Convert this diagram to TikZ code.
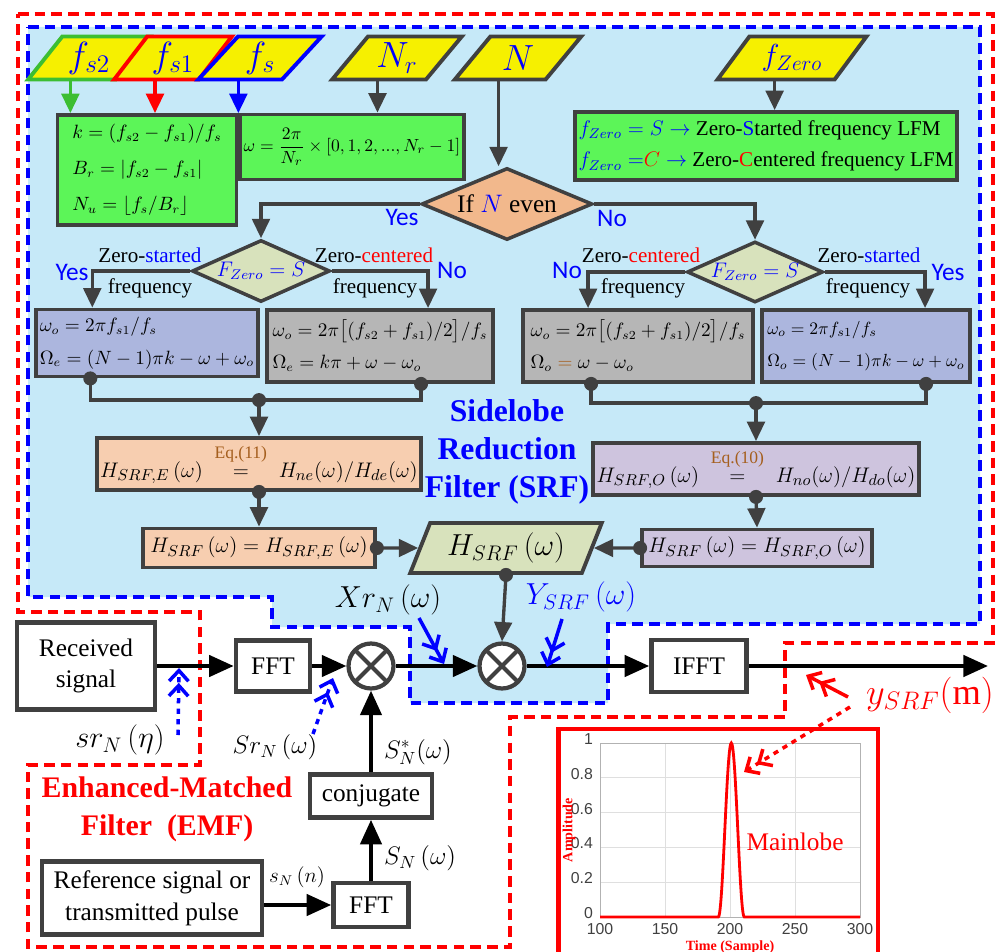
\documentclass[tikz,border=0pt]{standalone}
\usepackage{amsmath}
\usepackage{fontspec}
\setmainfont{Liberation Serif}
\newfontfamily\labelfont{Carlito}
\newfontfamily\axisfont{Liberation Sans}
\usetikzlibrary{shapes.geometric,arrows.meta,calc,positioning}

\definecolor{dgray}{RGB}{64,64,64}
\definecolor{srfblue}{RGB}{198,233,248}
\definecolor{inyellow}{RGB}{246,240,0}
\definecolor{boxgreen}{RGB}{92,245,88}
\definecolor{peach}{RGB}{242,184,140}
\definecolor{lightpeach}{RGB}{247,206,176}
\definecolor{boxgray}{RGB}{182,182,182}
\definecolor{boxblue}{RGB}{172,182,222}
\definecolor{lavender}{RGB}{206,196,222}
\definecolor{olive}{RGB}{216,226,188}
\definecolor{ingreen}{RGB}{60,190,50}
\definecolor{eqbrown}{RGB}{165,95,30}

\begin{document}
\begin{tikzpicture}[
x=0.02cm, y=-0.02cm,
box/.style={draw=dgray, line width=2.2pt, align=left, inner sep=2pt, font=\fontsize{10.5}{12.5}\selectfont},
sigbox/.style={draw=dgray, line width=2.6pt, fill=white, align=center, font=\Large},
param/.style={trapezium, trapezium left angle=50, trapezium right angle=130, trapezium stretches=true, draw=dgray, line width=2.2pt, fill=inyellow, minimum height=0.86cm, inner sep=0pt, font=\huge, text=blue},
decision/.style={diamond, draw=dgray, line width=2pt, inner sep=0pt},
mult/.style={circle, draw=dgray, line width=2.4pt, fill=white, minimum size=0.9cm, path picture={\draw[dgray, line width=2.4pt] (path picture bounding box.north west) -- (path picture bounding box.south east) (path picture bounding box.north east) -- (path picture bounding box.south west);}},
dot/.style={circle, fill=dgray, inner sep=0pt, minimum size=8pt},
link/.style={draw=dgray, line width=1.9pt},
flow/.style={link, -{Triangle[length=11pt,width=10pt]}},
sig/.style={line width=2.4pt, -{Triangle[length=14pt,width=12pt]}},
pointer/.style={blue, line width=2pt, -{Straight Barb[length=6pt,width=11pt]Straight Barb[length=6pt,width=11pt]}},
note/.style={font=\large},
yn/.style={font=\labelfont\Large, text=blue},
tick/.style={font=\axisfont\small, text=black!75, inner sep=1pt}
]
\useasboundingbox (0,0) rectangle (1000,952);

\draw[blue, fill=srfblue, line width=2pt, dash pattern=on 6pt off 3.5pt] (28,27) -- (980,27) -- (980,624) -- (608,624) -- (608,703) -- (410,703) -- (410,627) -- (272,627) -- (272,597) -- (28,597) -- cycle;

\draw[red, line width=2pt, dash pattern=on 6pt off 3.5pt] (18,14) -- (993,14) -- (993,643) -- (785,643) -- (785,717) -- (510,717) -- (510,947) -- (28,947) -- (28,765) -- (200,765) -- (200,612) -- (18,612) -- cycle;

\node[param, draw=ingreen, minimum width=2.44cm] (fs2) at (89,58) {$f_{s2}$};

\node[param, draw=red, minimum width=2.36cm] (fs1) at (173,58) {$f_{s1}$};

\node[param, draw=blue, minimum width=2.48cm] (fs) at (260,58) {$f_s$};

\node[param, minimum width=2.6cm] (Nr) at (397,58) {$N_r$};

\node[param, minimum width=2.54cm] (N) at (518,58) {$N$};

\node[param, minimum width=2.98cm, font=\LARGE] (fZero) at (792,58) {$f_{Zero}$};

\node[box, fill=boxgreen, minimum width=3.58cm, minimum height=2.2cm] (kbox) at (147,170) {$k=(f_{s2}-f_{s1})/f_s$\\[8pt] $B_r=|f_{s2}-f_{s1}|$\\[8pt] $N_u=\lfloor f_s/B_r\rfloor$};

\node[box, fill=boxgreen, minimum width=4.3cm, minimum height=1.3cm, font=\fontsize{10}{12}\selectfont] (wbox) at (352,147) {$\omega=\dfrac{2\pi}{N_r}\times[0,1,2,...,N_r-1]$};

\node[box, fill=boxgreen, minimum width=7.26cm, minimum height=1.36cm, font=\large] (zbox) at (766,146) {${\color{blue}f_{Zero}=S\rightarrow}$ Zero-\textcolor{blue}{S}tarted frequency LFM\\[4pt] ${\color{blue}f_{Zero}=}{\color{red}C}\;{\color{blue}\rightarrow}$ Zero-\textcolor{red}{C}entered frequency LFM};

\node[decision, fill=peach, aspect=2.4, minimum width=3.42cm, minimum height=1.44cm, font=\Large] (ifN) at (507,204) {If \textcolor{blue}{$N$} even};

\node[decision, fill=olive, aspect=2.2, minimum width=2.76cm, minimum height=1.24cm, font=\large] (fzL) at (261,271) {\color{blue}$F_{Zero}=S$};

\node[decision, fill=olive, aspect=2.2, minimum width=2.72cm, minimum height=1.22cm, font=\large] (fzR) at (755,272) {\color{blue}$F_{Zero}=S$};

\node[box, fill=boxblue, minimum width=4.4cm, minimum height=1.34cm] (A) at (147,343) {$\omega_o=2\pi f_{s1}/f_s$\\[6pt] $\Omega_e=(N-1)\pi k-\omega+\omega_o$};

\node[box, fill=boxgray, minimum width=4.52cm, minimum height=1.44cm] (B) at (380,346) {$\omega_o=2\pi\big[(f_{s2}+f_{s1})/2\big]/f_s$\\[6pt] $\Omega_e=k\pi+\omega-\omega_o$};

\node[box, fill=boxgray, minimum width=4.6cm, minimum height=1.44cm] (C) at (638,346) {$\omega_o=2\pi\big[(f_{s2}+f_{s1})/2\big]/f_s$\\[6pt] $\Omega_o\mathrel{\color{eqbrown}=}\omega-\omega_o$};

\node[box, fill=boxblue, minimum width=4.16cm, minimum height=1.44cm, font=\fontsize{9.6}{11.5}\selectfont] (D) at (866,346) {$\omega_o=2\pi f_{s1}/f_s$\\[7pt] $\Omega_o=(N-1)\pi k-\omega+\omega_o$};

\node[box, fill=lightpeach, minimum width=6.3cm, minimum height=1.04cm, font=\fontsize{13}{15}\selectfont] (E) at (259,464) {$H_{SRF,E}\,(\omega)\;\overset{\raisebox{4pt}{\normalsize\color{eqbrown}Eq.(11)}}{=}\;H_{ne}(\omega)/H_{de}(\omega)$};

\node[box, fill=lavender, minimum width=6.34cm, minimum height=1.04cm, font=\fontsize{13}{15}\selectfont] (F) at (756,469) {$H_{SRF,O}\,(\omega)\;\overset{\raisebox{4pt}{\normalsize\color{eqbrown}Eq.(10)}}{=}\;H_{no}(\omega)/H_{do}(\omega)$};

\node[box, fill=lightpeach, minimum width=4.64cm, minimum height=0.78cm, font=\fontsize{13}{15}\selectfont] (G) at (259,548) {$H_{SRF}\,(\omega)=H_{SRF,E}\,(\omega)$};

\node[box, fill=lavender, minimum width=4.6cm, minimum height=0.74cm, font=\fontsize{13}{15}\selectfont] (H) at (757,548) {$H_{SRF}\,(\omega)=H_{SRF,O}\,(\omega)$};

\node[param, fill=olive, text=black, trapezium left angle=63, trapezium right angle=117, minimum width=3.84cm, minimum height=1.0cm, font=\LARGE] (hsrf) at (506,548) {$H_{SRF}\,(\omega)$};

\node[font=\bfseries\fontsize{18}{21.5}\selectfont, text=blue, align=center] (srfTitle) at (507,452) {Sidelobe\\Reduction\\Filter (SRF)};

\node[yn] (yesN) at (402,217) {Yes};
\node[yn] (noN) at (612,218) {No};
\node[yn] (yesL) at (72,272) {Yes};
\node[yn] (noL) at (452,270) {No};
\node[yn] (noR) at (567,270) {No};
\node[yn] (yesR) at (948,272) {Yes};

\node[note] (zsL) at (150,255) {Zero-\textcolor{blue}{started}};
\node[note] (frL) at (150,288) {frequency};
\node[note] (zcL) at (374,255) {Zero-\textcolor{red}{centered}};
\node[note] (frL2) at (375,288) {frequency};
\node[note] (zcR) at (641,255) {Zero-\textcolor{red}{centered}};
\node[note] (frR) at (643,288) {frequency};
\node[note] (zsR) at (869,255) {Zero-\textcolor{blue}{started}};
\node[note] (frR2) at (868,288) {frequency};

\node[dot] (dA) at ([xshift=1.12cm]A.south west) {};
\node[dot] (dB) at ([xshift=3.12cm]B.south west) {};
\node[dot] (dC) at ([xshift=1.4cm]C.south west) {};
\node[dot] (dD) at ([xshift=3.32cm]D.south west) {};
\node[dot] (jE) at ([yshift=0.72cm]E.north) {};
\node[dot] (jF) at ([yshift=0.76cm]F.north) {};
\node[dot] (dE) at (E.south) {};
\node[dot] (dF) at (F.south) {};
\node[dot] (dG) at (G.east) {};
\node[dot] (dH) at (H.west) {};
\node[dot] (dS) at (hsrf.south) {};

\node[sigbox, minimum width=2.76cm, minimum height=1.74cm] (rx) at (86,666) {Received\\signal};

\node[sigbox, minimum width=1.48cm, minimum height=1.02cm] (fft1) at (273,666) {FFT};

\node[mult] (m1) at (371,666) {};

\node[mult] (m2) at (502,666) {};

\node[sigbox, minimum width=1.9cm, minimum height=1.04cm] (ifft) at (699,666) {IFFT};

\coordinate (out) at (988,666);

\node[sigbox, minimum width=2.44cm, minimum height=0.86cm] (conj) at (371,796) {conjugate};

\node[sigbox, minimum width=1.5cm, minimum height=0.88cm] (fft2) at (371,905) {FFT};

\node[sigbox, minimum width=4.4cm, minimum height=1.46cm] (ref) at (152,898) {Reference signal or\\transmitted pulse};

\node[font=\bfseries\fontsize{17}{21.5}\selectfont, text=red, align=center] (emfTitle) at (167,809) {Enhanced-Matched\\Filter~~(EMF)};

\node[font=\LARGE] (srN) at (120,740) {$sr_N\,(\eta)$};
\node[font=\Large] (SrN) at (275,747) {$Sr_N\,(\omega)$};
\node[font=\Large] (SNs) at (418,752) {$S_N^*(\omega)$};
\node[font=\LARGE] (XrN) at (388,600) {$Xr_N\,(\omega)$};
\node[font=\LARGE, text=blue] (Ysrf) at (581,597) {$Y_{SRF}\,(\omega)$};
\node[font=\huge, text=red] (ysrf) at (930,695) {$y_{SRF}(\mathrm{m})$};
\node[font=\Large] (SN) at (420,858) {$S_N\,(\omega)$};
\node[font=\large] (sNn) at (297,877) {$s_N\,(n)$};

\node[draw=red, line width=2.8pt, minimum width=6.4cm, minimum height=4.84cm] (plotbox) at (718,850) {};
\foreach \t in {100,150,...,300}
  \draw[gray!25, line width=0.4pt] ({600+1.3*(\t-100)},743) -- ({600+1.3*(\t-100)},917);
\foreach \v in {0,0.2,...,1}
  \draw[gray!25, line width=0.4pt] (600,{917-174*\v}) -- (860,{917-174*\v});
\draw[gray!60, line width=0.4pt] (600,743) rectangle (860,917);
\foreach \t in {100,150,...,300}
  \node[tick, anchor=north] (xt\t) at ({600+1.3*(\t-100)},921) {\t};
\foreach \l [count=\i from 0] in {0,0.2,0.4,0.6,0.8,1}
  \node[tick, anchor=east] (yt\i) at (595,{913-34.8*\i}) {\l};
\draw[red, line width=1.6pt] (600,917) -- (718.3,917) -- plot[domain=191:211, samples=41, smooth] ({600+1.3*(\x-100)},{917-174*(cos(9*(\x-201)))^2}) -- (860,917);
\node[font=\bfseries\footnotesize, text=red, rotate=90] (ylab) at (569,830) {Amplitude};
\node[font=\bfseries\footnotesize, text=red] (xlab) at (730,947) {Time (Sample)};
\node[font=\Large, text=red] (mlobe) at (795,842) {Mainlobe};

\draw[flow, draw=ingreen] (fs2.bottom side) -- (fs2.bottom side |- kbox.north);
\draw[flow, draw=red] (fs1.bottom side) -- (fs1.bottom side |- kbox.north);
\draw[flow, draw=blue] (fs.bottom side) -- (fs.bottom side |- kbox.north);
\draw[flow] (Nr.bottom side) -- (Nr.bottom side |- wbox.north);
\draw[flow] (N.bottom side) -- (N.bottom side |- ifN.north);
\draw[flow] (fZero.bottom side) -- (fZero.bottom side |- zbox.north);

\draw[flow] (ifN.west) -| (fzL.north);
\draw[flow] (ifN.east) -| (fzR.north);
\draw[flow] (fzL.west) -| ([xshift=1.16cm]A.north west);
\draw[flow] (fzL.east) -| ([xshift=3.26cm]B.north west);
\draw[flow] (fzR.west) -| ([xshift=1.34cm]C.north west);
\draw[flow] (fzR.east) -| ([xshift=3.3cm]D.north west);

\draw[link] (dA.center) |- (jE.center) -| (dB.center);
\draw[flow] (jE.center) -- (E.north);
\draw[link] (dC.center) |- (jF.center) -| (dD.center);
\draw[flow] (jF.center) -- (F.north);
\draw[flow] (dE.center) -- (G.north);
\draw[flow] (dF.center) -- (H.north);
\draw[flow] (dG.center) -- (hsrf.west);
\draw[flow] (dH.center) -- (hsrf.east);
\draw[flow] (dS.center) -- (m2.north);

\draw[sig] (rx.east) -- (fft1.west);
\draw[sig] (fft1.east) -- (m1.west);
\draw[sig] (m1.east) -- (m2.west);
\draw[sig] (m2.east) -- (ifft.west);
\draw[sig] (ifft.east) -- (out);
\draw[sig] (ref.east |- fft2.west) -- (fft2.west);
\draw[sig] (fft2.north) -- (conj.south);
\draw[sig] (conj.north) -- (m1.south);

\coordinate (srTail) at (178,735);
\coordinate (srTip) at (179,668);
\draw[pointer, dashed] (srTail) -- (srTip);
\coordinate (SrTail) at (313,734);
\coordinate (SrTip) at (333,678);
\draw[pointer, dashed] (SrTail) -- (SrTip);
\coordinate (XrTail) at (419,618);
\coordinate (XrTip) at (444,664);
\draw[pointer] (XrTail) -- (XrTip);
\coordinate (YTail) at (562,619);
\coordinate (YTip) at (547,667);
\draw[pointer] (YTail) -- (YTip);
\coordinate (ymTail) at (848,697);
\coordinate (ymTip) at (806,675);
\draw[pointer, red] (ymTail) -- (ymTip);
\coordinate (pkTail) at (850,707);
\coordinate (pkTip) at (744,772);
\draw[pointer, red, dashed] (pkTail) -- (pkTip);

\end{tikzpicture}
\end{document}
